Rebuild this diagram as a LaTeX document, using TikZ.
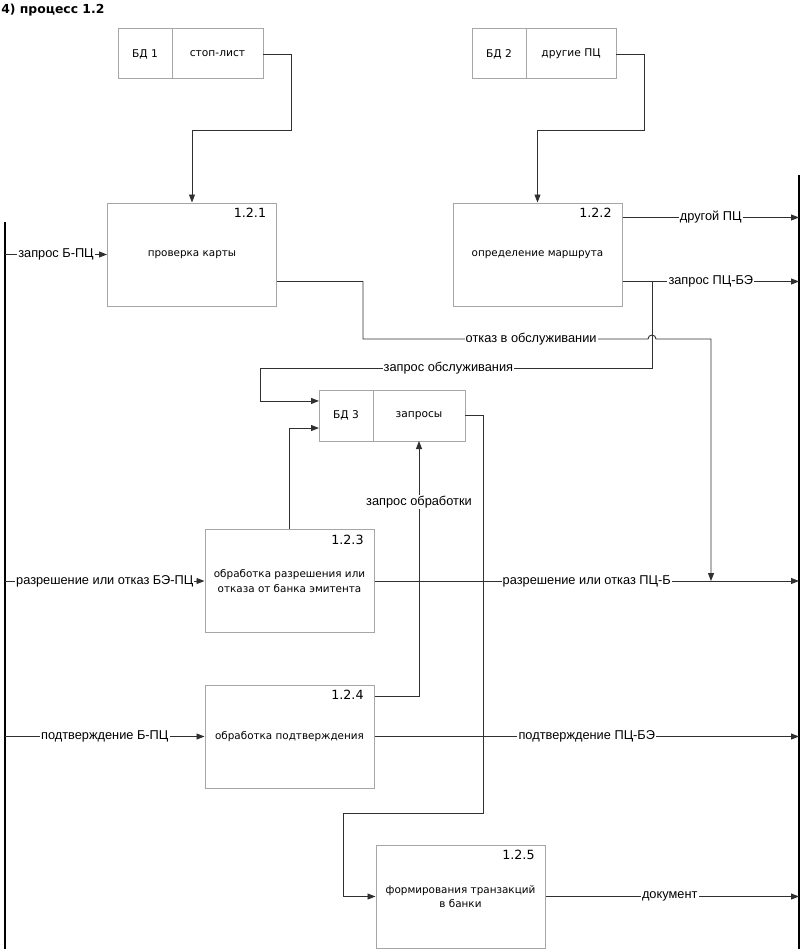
\documentclass[tikz,border=0pt]{standalone}
\usepackage{fontspec}
\setmainfont{DejaVu Sans}
\newfontfamily\arialfont{Liberation Sans}
\usetikzlibrary{arrows.meta,positioning}
\definecolor{boxgray}{HTML}{A6A6A6}
\definecolor{linegray}{HTML}{303030}

\begin{document}
\begin{tikzpicture}[x=0.75pt,y=-0.75pt,>={Triangle[length=6pt,width=4.5pt]},
	proc/.style={draw=boxgray,line width=0.75pt,minimum width=126.75pt,minimum height=77.25pt,inner sep=0pt,align=center,font=\fontsize{7.8}{11}\selectfont},
	num/.style={anchor=north east,inner sep=0pt,font=\fontsize{9.5}{11}\selectfont},
	dbkey/.style={draw=boxgray,line width=0.75pt,outer sep=0pt,minimum width=40.5pt,minimum height=37.5pt,inner sep=0pt,font=\fontsize{8}{10}\selectfont},
	dbval/.style={dbkey,minimum width=68.25pt},
	lbl/.style={fill=white,inner sep=0.8pt,font=\arialfont\fontsize{9.6}{11}\selectfont},
	flow/.style={draw=linegray,line width=0.7pt},
	bus/.style={draw=black,line width=1.1pt}]
	\useasboundingbox (0,0) rectangle (800,949);
	\node[anchor=north west,inner sep=0pt,font=\bfseries\fontsize{9.3}{11}\selectfont] (title) at (1,4) {4) процесс 1.2};
	% хранилища данных
	\node[dbkey,anchor=west] (bd1) at (118,54) {БД 1};
	\node[dbval,right=0pt of bd1] (stop) {стоп-лист};
	\node[dbkey,anchor=west] (bd2) at (472,54) {БД 2};
	\node[dbval,right=0pt of bd2,minimum width=67.5pt] (pc) {другие ПЦ};
	\node[dbkey,anchor=west,minimum height=38.25pt] (bd3) at (319,415.5) {БД 3};
	\node[dbval,right=0pt of bd3,minimum width=69pt,minimum height=38.25pt] (zap) {запросы};
	% процессы
	\node[proc] (p1) at (192,254.5) {проверка карты};
	\node[proc] (p2) at (537.5,254.5) {определение маршрута};
	\node[proc] (p3) at (289.5,581) {обработка разрешения или\\отказа от банка эмитента};
	\node[proc] (p4) at (289.5,736.5) {обработка подтверждения};
	\node[proc] (p5) at (460.5,896.5) {формирования транзакций\\в банки};
	\node[num] (n1) at ([xshift=-8pt,yshift=-4pt]p1.north east) {1.2.1};
	\node[num] (n2) at ([xshift=-8pt,yshift=-4pt]p2.north east) {1.2.2};
	\node[num] (n3) at ([xshift=-8pt,yshift=-4pt]p3.north east) {1.2.3};
	\node[num] (n4) at ([xshift=-8pt,yshift=-4pt]p4.north east) {1.2.4};
	\node[num] (n5) at ([xshift=-8pt,yshift=-4pt]p5.north east) {1.2.5};
	% внешние границы
	\coordinate (lbTop) at (5,222);
	\coordinate (lbBot) at (5,949);
	\coordinate (rbTop) at (799,175);
	\coordinate (rbBot) at (799,949);
	\draw[bus] (lbTop) -- (lbBot);
	\draw[bus] (rbTop) -- (rbBot);
	% точки выходов
	\coordinate (o1) at ([yshift=18.75pt]p1.south east);
	\coordinate (o2a) at ([yshift=-11.25pt]p2.north east);
	\coordinate (o2b) at ([yshift=18.75pt]p2.south east);
	\coordinate (jz) at ([xshift=22.5pt]o2b);
	\coordinate (o4) at ([yshift=-9pt]p4.north east);
	\coordinate (oj) at (711,339);
	% потоки
	\draw[flow,->] (stop.east) -| (291,130) -| (p1.north);
	\draw[flow,->] (pc.east) -| (644,130) -| (p2.north);
	\draw[flow,->] (p1.west -| lbTop) -- node[lbl]{запрос Б-ПЦ} (p1.west);
	\draw[flow,->] (p3.west -| lbTop) -- node[lbl,pos=0.5]{разрешение или отказ БЭ-ПЦ} (p3.west);
	\draw[flow,->] (p4.west -| lbTop) -- node[lbl]{подтверждение Б-ПЦ} (p4.west);
	\draw[flow,->] (o2a) -- node[lbl]{другой ПЦ} (o2a -| rbTop);
	\draw[flow,->] (o2b) -- node[lbl]{запрос ПЦ-БЭ} (o2b -| rbTop);
	\draw[flow,->] (jz) |- node[lbl,pos=0.76]{запрос обслуживания} (260,368) |- ([yshift=10.9pt]bd3.west);
	\draw[flow,->] (o1) -| (363,339) -- node[lbl,pos=0.59]{отказ в обслуживании} (648,339)
		arc[start angle=180,end angle=0,radius=3pt] -- (oj) -- (oj |- p3.east);
	\draw[flow,->] (p3.north) |- ([yshift=-9.4pt]bd3.west);
	\draw[flow,->] (o4) -| node[lbl,pos=0.88]{запрос обработки} (zap.south);
	\draw[flow,->] (zap.east) -| (483,813) -- (343,813) |- (p5.west);
	\draw[flow,->] (p3.east) -- node[lbl]{разрешение или отказ ПЦ-Б} (p3.east -| rbTop);
	\draw[flow,->] (p4.east) -- node[lbl]{подтверждение ПЦ-БЭ} (p4.east -| rbTop);
	\draw[flow,->] (p5.east) -- node[lbl,pos=0.49]{документ} (p5.east -| rbTop);
\end{tikzpicture}
\end{document}
